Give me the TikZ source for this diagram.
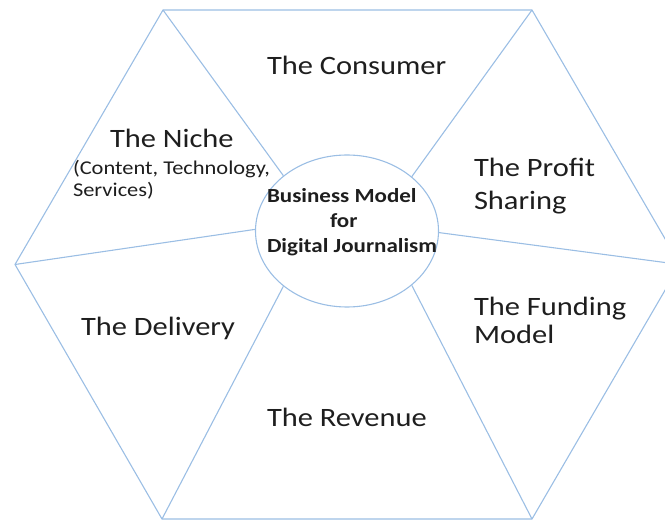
\documentclass[tikz,border=0pt]{standalone}
\usepackage{fontspec}
\setmainfont{Carlito}[FakeStretch=1.15]
\usetikzlibrary{shapes.geometric}
\definecolor{edgeblue}{RGB}{155,190,228}
\definecolor{ink}{RGB}{30,30,30}
\begin{document}
\begin{tikzpicture}[x=1pt,y=-1pt,
  edge/.style={draw=edgeblue,line width=1.1pt},
  lbl/.style={anchor=base west,inner sep=0pt,outer sep=0pt,text=ink,font=\fontsize{26.5}{30}\selectfont},
  sub/.style={lbl,font=\fontsize{19.5}{22}\selectfont},
  core/.style={lbl,font=\fontsize{20}{24}\selectfont\bfseries}]
\useasboundingbox (0,0) rectangle (665,521);
\clip (0,0) rectangle (665,521);
\coordinate (TL) at (163,10);
\coordinate (TR) at (532,10);
\coordinate (R) at (680,264.5);
\coordinate (BR) at (532,519);
\coordinate (BL) at (162,519);
\coordinate (L) at (15,264.5);
\draw[edge] (TL) -- (TR) -- (R) -- (BR) -- (BL) -- (L) -- cycle;
\node[ellipse, draw=edgeblue, line width=1.1pt, minimum width=183pt, minimum height=152pt, inner sep=0pt] (hub) at (347,231) {};
\draw[edge] (TL) -- (hub.139);
\draw[edge] (TR) -- (hub.40);
\draw[edge] (L) -- (hub.179);
\draw[edge] (R) -- (hub.359);
\draw[edge] (BL) -- (hub.221);
\draw[edge] (BR) -- (hub.320);
\node[lbl] (consumer) at (267,75) {The Consumer};
\node[lbl] (niche) at (110,148) {The Niche};
\node[sub] (nichea) at (73,175) {(Content, Technology,};
\node[sub] (nicheb) at (73,197) {Services)};
\node[lbl] (profita) at (474,177) {The Profit};
\node[lbl] (profitb) at (474,210) {Sharing};
\node[core] (hubA) at (267,203) {Business Model};
\node[core] (hubB) at (330,228) {for};
\node[core] (hubC) at (267,253) {Digital Journalism};
\node[lbl] (delivery) at (81,335.5) {The Delivery};
\node[lbl] (fundinga) at (474,316) {The Funding};
\node[lbl] (fundingb) at (474,344) {Model};
\node[lbl] (revenue) at (267,426.5) {The Revenue};
\end{tikzpicture}
\end{document}
